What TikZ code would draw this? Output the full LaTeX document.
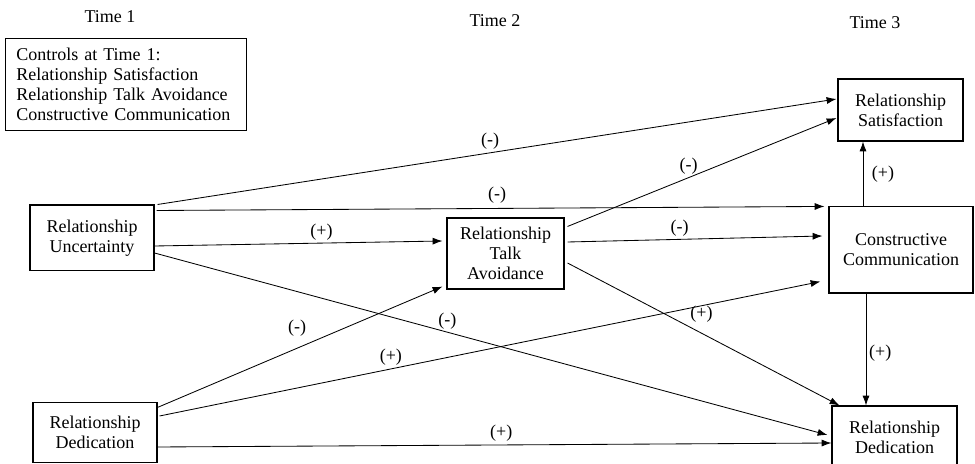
\documentclass[tikz,border=0pt]{standalone}
\usepackage{fontspec}
\setmainfont{Liberation Serif}
\usetikzlibrary{arrows.meta}

\begin{document}
\begin{tikzpicture}[x=0.025cm,y=-0.025cm]
                        \tikzstyle{box}=[draw, line width=0.75pt, align=center, inner sep=0pt, font=\fontsize{12.8}{14.3}\selectfont]
                        \tikzstyle{link}=[-{Latex[length=7pt,width=5pt]}, line width=0.6pt]
                        \tikzstyle{sign}=[inner sep=2pt, font=\fontsize{12.8}{14.3}\selectfont]
                        \tikzstyle{time}=[font=\fontsize{12.8}{14.3}\selectfont]
                        \useasboundingbox (0,0) rectangle (975,464);
                        \node[time] (t1) at (110,17) {Time 1};
                        \node[time] (t2) at (495,21) {Time 2};
                        \node[time] (t3) at (875,23) {Time 3};
                        \node[box, anchor=north west, align=left, text width=156pt,
                              minimum width=171.4pt, minimum height=65.4pt] (ctrl) at (5,38)
                            {Controls at Time 1:\\Relationship Satisfaction\\Relationship Talk Avoidance\\Constructive Communication};
                        \node[box, minimum width=88.2pt, minimum height=46.9pt] (ru) at (92,238) {Relationship\\Uncertainty};
                        \node[box, minimum width=88.2pt, minimum height=42pt] (rdl) at (95,432.5) {Relationship\\Dedication};
                        \node[box, minimum width=83.2pt, minimum height=50.5pt] (ta) at (505.5,253.5) {Relationship\\Talk\\Avoidance};
                        \node[box, minimum width=88.9pt, minimum height=44.1pt] (rs) at (900.5,110) {Relationship\\Satisfaction};
                        \node[box, minimum width=102.4pt, minimum height=61.2pt] (cc) at (901,250) {Constructive\\Communication};
                        \node[box, minimum width=88.9pt, minimum height=44.1pt] (rdr) at (894.5,437) {Relationship\\Dedication};
                        \draw[link] ([shift={(3,0)}]ru.north east) -- node[sign, pos=0.49, above] {(-)} ([shift={(-1,-11)}]rs.west);
                        \draw[link] ([shift={(2,6)}]ru.north east) -- node[sign, pos=0.51, above, yshift=1pt] {(-)} ([shift={(-4,0)}]cc.north west);
                        \draw[link] ([shift={(0,8)}]ru.east) -- node[sign, pos=0.58, above] {(+)} ([shift={(-4,-12.5)}]ta.west);
                        \draw[link] ([shift={(0,15)}]ru.east) -- node[sign, pos=0.435, above] {(-)} ([shift={(-4,-2)}]rdr.west);
                        \draw[link] ([shift={(3,9)}]ta.north east) -- node[sign, pos=0.45, above] {(-)} ([shift={(-1,8)}]rs.west);
                        \draw[link] ([shift={(3,-11.5)}]ta.east) -- node[sign, pos=0.44, above] {(-)} ([shift={(-6,-14)}]cc.west);
                        \draw[link] ([shift={(3,9.5)}]ta.east) -- node[sign, pos=0.44, above right] {(+)} ([shift={(8,0)}]rdr.north west);
                        \draw[link] ([shift={(0,5)}]rdl.north east) -- node[sign, pos=0.49, above, yshift=6pt] {(-)} ([shift={(-4,-3)}]ta.south west);
                        \draw[link] ([shift={(2,-16.5)}]rdl.east) -- node[sign, pos=0.35, above] {(+)} ([shift={(-8,-12)}]cc.south west);
                        \draw[link] ([shift={(0,14.5)}]rdl.east) -- node[sign, pos=0.51, above] {(+)} ([shift={(0,6)}]rdr.west);
                        \draw[link] ([shift={(-38,0)}]cc.north) -- node[sign, right, xshift=4pt] {(+)} ([shift={(-37.5,0)}]rs.south);
                        \draw[link] ([shift={(-35,0)}]cc.south) -- node[sign, pos=0.53, right] {(+)} ([shift={(-28.5,0)}]rdr.north);
\end{tikzpicture}
\end{document}
